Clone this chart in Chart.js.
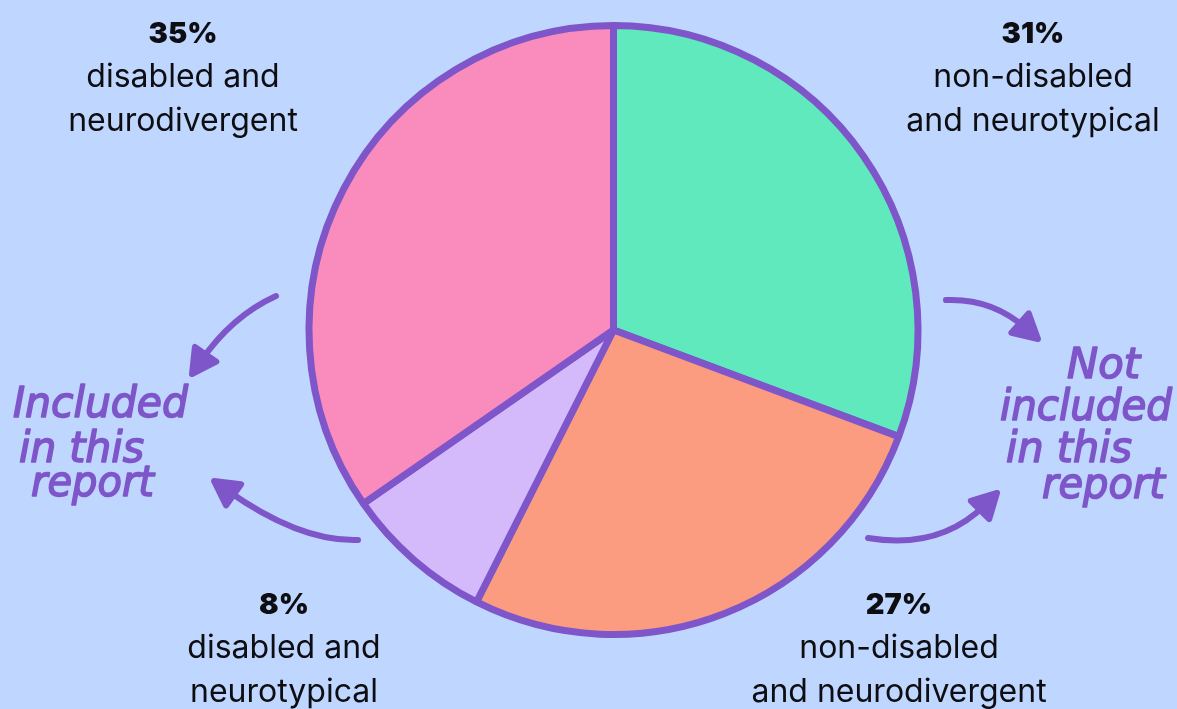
<!DOCTYPE html>
<html>
<head>
<meta charset="utf-8">
<script src="https://cdn.jsdelivr.net/npm/chart.js@4.4.1/dist/chart.umd.min.js"></script>
<style>
  html, body { margin: 0; padding: 0; background: #bfd7fe; }
  #wrap { position: relative; width: 1177px; height: 709px; overflow: hidden; }
</style>
</head>
<body>
<div id="wrap"><canvas id="pie" width="1177" height="709"></canvas></div>
<script>
// data, clockwise from 12 o'clock
const categories = ['non-disabled and neurotypical', 'non-disabled and neurodivergent', 'disabled and neurotypical', 'disabled and neurodivergent'];
const shares = [31, 27, 8, 35];
const shareLabels = ['31%', '27%', '8%', '35%'];
const labelLines = [
    ['non-disabled', 'and neurotypical'],
    ['non-disabled', 'and neurodivergent'],
    ['disabled and', 'neurotypical'],
    ['disabled and', 'neurodivergent']
];
const sliceColors = ['#5fe9bc', '#fb9b80', '#d4b9fb', '#fa8cbd'];

const ink = '#7e56c9';

// where each label block sits (centre x, baseline of the % line)
const labelAnchors = [
    { x: 1033, y: 43 },
    { x: 899, y: 614 },
    { x: 284, y: 614 },
    { x: 183, y: 43 }
];

// handwritten notes on both sides
const notes = [
    { text: 'Included', x: 13, y: 417, w: 175 },
    { text: 'in this', x: 19, y: 462, w: 125 },
    { text: 'report', x: 31, y: 496, w: 123 },
    { text: 'Not', x: 1067, y: 378, w: 73 },
    { text: 'included', x: 1000, y: 420, w: 172 },
    { text: 'in this', x: 1006, y: 462, w: 126 },
    { text: 'report', x: 1042, y: 498, w: 123 }
];

// curved arrows: start, control, tip
const arrows = [
    [[276, 296], [232, 316], [192, 374]],
    [[358, 540], [300, 542], [214, 481]],
    [[946, 300], [992, 298], [1038, 339]],
    [[868, 538], [940, 550], [997, 493]]
];

const decorPlugin = {
    id: 'decor',
    afterDraw(chart) {
        const ctx = chart.ctx;
        ctx.save();

        // slice labels
        ctx.fillStyle = '#0d0d12';
        ctx.textAlign = 'center';
        ctx.textBaseline = 'alphabetic';
        labelAnchors.forEach((a, i) => {
            ctx.font = '900 29px Inter, "Noto Sans", sans-serif';
            ctx.fillText(shareLabels[i], a.x, a.y);
            ctx.font = '400 32px Inter, "Noto Sans", sans-serif';
            labelLines[i].forEach((line, j) => {
                ctx.fillText(line, a.x, a.y + 44 * (j + 1));
            });
        });

        // arrows
        ctx.strokeStyle = ink;
        ctx.fillStyle = ink;
        ctx.lineWidth = 6;
        ctx.lineCap = 'round';
        ctx.lineJoin = 'round';
        arrows.forEach(([s, c, t]) => {
            const ang = Math.atan2(t[1] - c[1], t[0] - c[0]);
            const back = 16;
            const ex = t[0] - Math.cos(ang) * back, ey = t[1] - Math.sin(ang) * back;
            ctx.beginPath();
            ctx.moveTo(s[0], s[1]);
            ctx.quadraticCurveTo(c[0], c[1], ex, ey);
            ctx.stroke();
            const len = 24, half = 13;
            const bx = t[0] - Math.cos(ang) * len, by = t[1] - Math.sin(ang) * len;
            ctx.beginPath();
            ctx.moveTo(t[0], t[1]);
            ctx.lineTo(bx + Math.sin(ang) * half, by - Math.cos(ang) * half);
            ctx.lineTo(bx - Math.sin(ang) * half, by + Math.cos(ang) * half);
            ctx.closePath();
            ctx.fill();
            ctx.stroke();
        });

        // handwritten notes
        ctx.textAlign = 'left';
        ctx.font = 'italic 400 42px "DejaVu Sans", sans-serif';
        ctx.lineWidth = 1.6;
        notes.forEach(n => {
            const w = ctx.measureText(n.text).width;
            ctx.save();
            ctx.translate(n.x, n.y);
            ctx.scale(n.w / w, 1);
            ctx.fillText(n.text, 0, 0);
            ctx.strokeText(n.text, 0, 0);
            ctx.restore();
        });

        ctx.restore();
    }
};

new Chart(document.getElementById('pie'), {
    type: 'pie',
    data: {
        labels: categories,
        datasets: [{
            data: shares,
            backgroundColor: sliceColors,
            borderColor: ink,
            borderWidth: 7,
            hoverOffset: 0
        }]
    },
    options: {
        responsive: false,
        animation: false,
        events: [],
        layout: { padding: { left: 305, right: 255, top: 22, bottom: 71 } },
        plugins: {
            legend: { display: false },
            tooltip: { enabled: false }
        }
    },
    plugins: [decorPlugin]
});
</script>
</body>
</html>
